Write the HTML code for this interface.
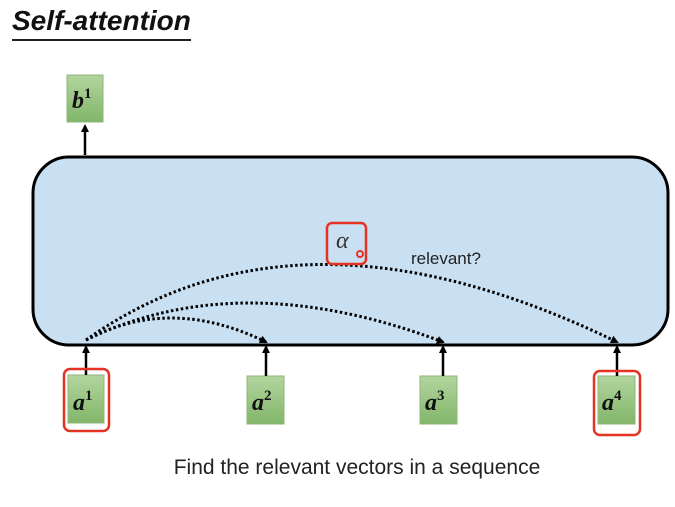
<!DOCTYPE html>
<html><head><style>
body{margin:0;width:675px;height:507px;background:#fff;overflow:hidden;position:relative;font-family:"Liberation Sans",sans-serif}
.t{position:absolute;left:12px;top:4px;font-size:28px;font-weight:bold;font-style:italic;color:#111;border-bottom:2px solid #222;line-height:34px;padding-bottom:1px}
</style></head><body>
<div class="t">Self-attention</div>
<svg width="675" height="507" style="position:absolute;left:0;top:0">
<defs>
<linearGradient id="g" x1="0" y1="0" x2="0" y2="1"><stop offset="0" stop-color="#b3d59f"/><stop offset="1" stop-color="#82b66a"/></linearGradient>
<marker id="ah" markerWidth="8" markerHeight="8" refX="6" refY="4" orient="auto" markerUnits="userSpaceOnUse"><path d="M0,0 L8,4 L0,8 z" fill="#000"/></marker>
</defs>
<rect x="33" y="157" width="635" height="188" rx="36" fill="#c9e0f3" stroke="#000" stroke-width="3"/>
<g fill="url(#g)" stroke="#8fb67c" stroke-width="1">
<rect x="67" y="75" width="36" height="47"/>
<rect x="68" y="375" width="36" height="48"/>
<rect x="247" y="376" width="37" height="48"/>
<rect x="420" y="376" width="37" height="48"/>
<rect x="598" y="376" width="37" height="48"/>
</g>
<g font-family="Liberation Serif,serif" font-weight="bold" font-style="italic" font-size="24" fill="#111">
<text x="72" y="108">b<tspan font-size="15" dy="-10" font-style="normal">1</tspan></text>
<text x="73" y="410">a<tspan font-size="15" dy="-10" font-style="normal">1</tspan></text>
<text x="252" y="410">a<tspan font-size="15" dy="-10" font-style="normal">2</tspan></text>
<text x="425" y="410">a<tspan font-size="15" dy="-10" font-style="normal">3</tspan></text>
<text x="602" y="410">a<tspan font-size="15" dy="-10" font-style="normal">4</tspan></text>
</g>
<g stroke="#000" stroke-width="2.5" fill="none" marker-end="url(#ah)">
<line x1="85" y1="155" x2="85" y2="126"/>
<line x1="86" y1="375" x2="86" y2="347"/>
<line x1="266" y1="376" x2="266" y2="347"/>
<line x1="443" y1="376" x2="443" y2="347"/>
<line x1="617" y1="376" x2="617" y2="347"/>
</g>
<g stroke="#000" stroke-width="3" stroke-dasharray="2.5 2.5" fill="none" marker-end="url(#ah)">
<path d="M86,340 Q170,295 266,342"/>
<path d="M86,340 Q240,265 443,342"/>
<path d="M86,340 Q300,188 617,342"/>
</g>
<g fill="none" stroke="#e53323" stroke-width="2.5">
<rect x="64" y="369" width="45" height="62" rx="6"/>
<rect x="594" y="371" width="46" height="64" rx="6"/>
<rect x="327" y="223" width="39" height="41" rx="5"/>
<circle cx="360" cy="254" r="3" stroke-width="2"/>
</g>
<text x="336" y="248" font-family="Liberation Serif,serif" font-style="italic" font-size="24" fill="#333">α</text>
<text x="411" y="264" font-size="17" fill="#222">relevant?</text>
<text x="357" y="474" text-anchor="middle" font-size="21" fill="#222">Find the relevant vectors in a sequence</text>
</svg>
</body></html>
